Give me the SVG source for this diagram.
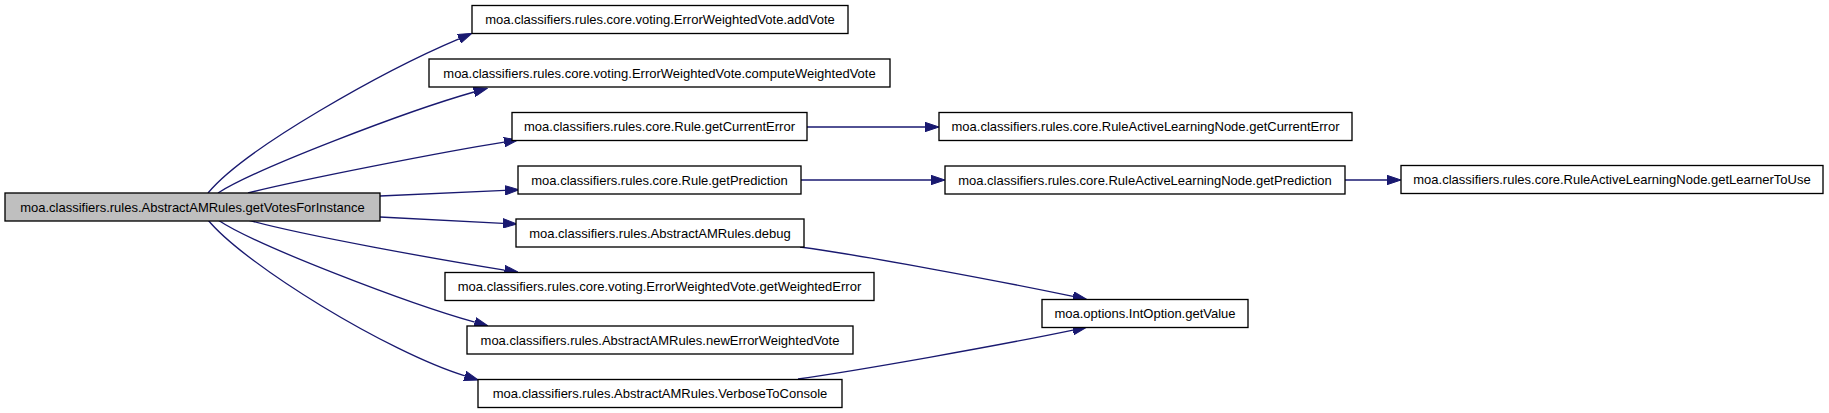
<svg xmlns="http://www.w3.org/2000/svg" width="1829" height="413" viewBox="0 0 1829 413">
<style>
.n rect{fill:#ffffff;stroke:#000000;stroke-width:1.33}
.n.root rect{fill:#bfbfbf}
.n text{font-family:"Liberation Sans",Arial,sans-serif;font-size:13px;fill:#000000;text-anchor:middle}
.e path{fill:none;stroke:#191970;stroke-width:1.33;marker-end:url(#arr)}
</style>
<defs>
<marker id="arr" markerUnits="userSpaceOnUse" viewBox="0 -5 14 10" refX="0" refY="0" markerWidth="14" markerHeight="10" orient="auto">
<path d="M0,-4.7 L14,0 L0,4.7 Z" fill="#191970" stroke="#191970" stroke-width="1"/>
</marker>
</defs>
<rect width="1829" height="413" fill="#ffffff"/>
<g id="edges" class="e">
<path d="M208,193 C245,148 385,70 459,38.8"/>
<path d="M218,193 C255,169 407,111 474,92"/>
<path d="M248,193 C300,180 445,151.5 504.2,142.2"/>
<path d="M380,196 C420,194 460,192 505,190.3"/>
<path d="M380,217 C420,219 460,221 503,223.3"/>
<path d="M248,220 C300,235 445,260.6 504.5,270.1"/>
<path d="M218,220 C255,245 407.4,303.3 474.8,322.2"/>
<path d="M208,220 C245,265 388.4,352.4 464.9,375.9"/>
<path d="M807,127 L925,127"/>
<path d="M801,180 L931,180"/>
<path d="M1345,180 L1387,180"/>
<path d="M800,247 C860,255 994.6,280 1073,296.4"/>
<path d="M798,379 C860,370 994.6,346.4 1073,330.1"/>
</g>
<g id="root" class="n root"><rect x="5" y="193" width="375" height="28"/><text x="192.5" y="211.5">moa.classifiers.rules.AbstractAMRules.getVotesForInstance</text></g>
<g id="addVote" class="n"><rect x="472" y="5.5" width="376" height="28"/><text x="660" y="24">moa.classifiers.rules.core.voting.ErrorWeightedVote.addVote</text></g>
<g id="computeWeightedVote" class="n"><rect x="429" y="59" width="461" height="28"/><text x="659.5" y="77.5">moa.classifiers.rules.core.voting.ErrorWeightedVote.computeWeightedVote</text></g>
<g id="ruleGetCurrentError" class="n"><rect x="512" y="112.5" width="295" height="28"/><text x="659.5" y="131">moa.classifiers.rules.core.Rule.getCurrentError</text></g>
<g id="ruleGetPrediction" class="n"><rect x="518" y="166" width="283" height="28"/><text x="659.5" y="184.5">moa.classifiers.rules.core.Rule.getPrediction</text></g>
<g id="debug" class="n"><rect x="516" y="219" width="288" height="28"/><text x="660" y="237.5">moa.classifiers.rules.AbstractAMRules.debug</text></g>
<g id="getWeightedError" class="n"><rect x="445" y="272.5" width="429" height="28"/><text x="659.5" y="291">moa.classifiers.rules.core.voting.ErrorWeightedVote.getWeightedError</text></g>
<g id="newErrorWeightedVote" class="n"><rect x="467" y="326" width="386" height="28"/><text x="660" y="344.5">moa.classifiers.rules.AbstractAMRules.newErrorWeightedVote</text></g>
<g id="verboseToConsole" class="n"><rect x="478" y="379.5" width="364" height="28"/><text x="660" y="398">moa.classifiers.rules.AbstractAMRules.VerboseToConsole</text></g>
<g id="ralnGetCurrentError" class="n"><rect x="939" y="112.5" width="413" height="28"/><text x="1145.5" y="131">moa.classifiers.rules.core.RuleActiveLearningNode.getCurrentError</text></g>
<g id="ralnGetPrediction" class="n"><rect x="945" y="166" width="400" height="28"/><text x="1145" y="184.5">moa.classifiers.rules.core.RuleActiveLearningNode.getPrediction</text></g>
<g id="getLearnerToUse" class="n"><rect x="1401" y="165.5" width="422" height="28"/><text x="1612" y="184">moa.classifiers.rules.core.RuleActiveLearningNode.getLearnerToUse</text></g>
<g id="intOptionGetValue" class="n"><rect x="1042" y="299.5" width="206" height="28"/><text x="1145" y="318">moa.options.IntOption.getValue</text></g>
</svg>
